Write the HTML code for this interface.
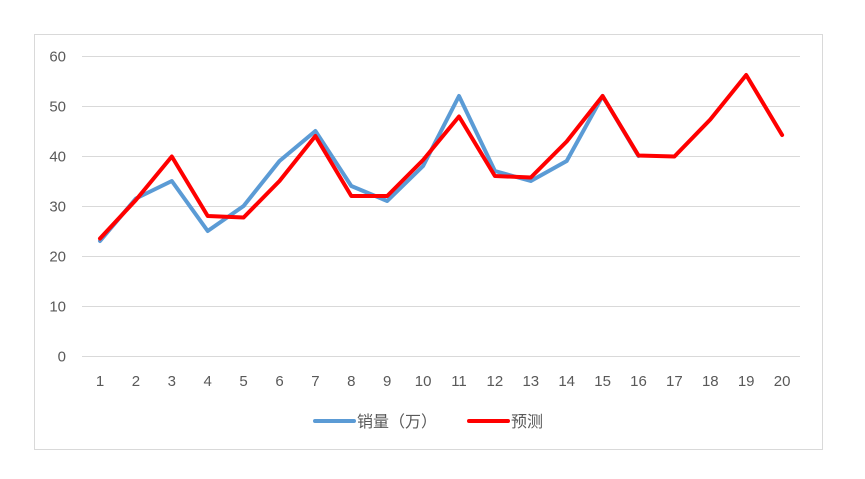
<!DOCTYPE html>
<html><head><meta charset="utf-8"><style>
html,body{margin:0;padding:0;background:#fff;}
svg{display:block;}
text{font-family:"Liberation Sans","Noto Sans CJK SC",sans-serif;fill:#595959;}
</style></head><body>
<svg width="865" height="479" viewBox="0 0 865 479" xmlns="http://www.w3.org/2000/svg">
<rect x="0" y="0" width="865" height="479" fill="#fff"/>
<rect x="34.5" y="34.5" width="788" height="415" fill="#fff" stroke="#d9d9d9" stroke-width="1"/>
<g stroke="#d9d9d9" stroke-width="1">
<line x1="82" y1="56.5" x2="800" y2="56.5"/>
<line x1="82" y1="106.5" x2="800" y2="106.5"/>
<line x1="82" y1="156.5" x2="800" y2="156.5"/>
<line x1="82" y1="206.5" x2="800" y2="206.5"/>
<line x1="82" y1="256.5" x2="800" y2="256.5"/>
<line x1="82" y1="306.5" x2="800" y2="306.5"/>
<line x1="82" y1="356.5" x2="800" y2="356.5"/>
</g>
<g font-size="15" text-anchor="end">
<text x="66" y="61.5">60</text>
<text x="66" y="111.5">50</text>
<text x="66" y="161.5">40</text>
<text x="66" y="211.5">30</text>
<text x="66" y="261.5">20</text>
<text x="66" y="311.5">10</text>
<text x="66" y="361.5">0</text>
</g>
<g font-size="15" text-anchor="middle">
<text x="100" y="386">1</text>
<text x="135.9" y="386">2</text>
<text x="171.8" y="386">3</text>
<text x="207.7" y="386">4</text>
<text x="243.6" y="386">5</text>
<text x="279.5" y="386">6</text>
<text x="315.4" y="386">7</text>
<text x="351.3" y="386">8</text>
<text x="387.2" y="386">9</text>
<text x="423.1" y="386">10</text>
<text x="459" y="386">11</text>
<text x="494.9" y="386">12</text>
<text x="530.8" y="386">13</text>
<text x="566.7" y="386">14</text>
<text x="602.6" y="386">15</text>
<text x="638.5" y="386">16</text>
<text x="674.4" y="386">17</text>
<text x="710.3" y="386">18</text>
<text x="746.2" y="386">19</text>
<text x="782.1" y="386">20</text>
</g>
<polyline fill="none" stroke="#5b9bd5" stroke-width="4" stroke-linejoin="round" stroke-linecap="round"
points="100,241 135.9,198.5 171.8,181 207.7,231 243.6,206 279.5,161 315.4,131 351.3,186 387.2,201 423.1,166 459,96 494.9,171 530.8,181 566.7,161 602.6,96 638.5,156"/>
<polyline fill="none" stroke="#ff0000" stroke-width="4" stroke-linejoin="round" stroke-linecap="round"
points="100,238.5 135.9,200 171.8,156.5 207.7,216 243.6,217.5 279.5,181 315.4,136 351.3,196 387.2,196 423.1,160 459,116.5 494.9,176 530.8,177.5 566.7,141.5 602.6,96 638.5,155.5 674.4,156.5 710.3,119.5 746.2,75 782.1,135"/>
<line x1="315" y1="421" x2="354" y2="421" stroke="#5b9bd5" stroke-width="4" stroke-linecap="round"/>
<text x="357" y="427" font-size="16">销量（万）</text>
<line x1="469" y1="421" x2="508" y2="421" stroke="#ff0000" stroke-width="4" stroke-linecap="round"/>
<text x="511" y="427" font-size="16">预测</text>
</svg>
</body></html>
